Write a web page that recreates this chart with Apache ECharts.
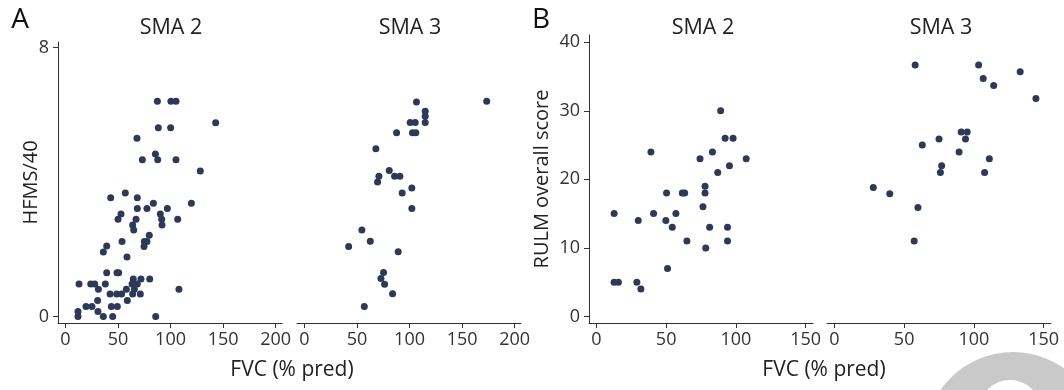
<!DOCTYPE html>
<html>
<head>
<meta charset="utf-8">
<script src="https://cdn.jsdelivr.net/npm/echarts@6/dist/echarts.min.js"></script>
<style>
  html, body { margin: 0; padding: 0; background: #fff; }
  #chart { width: 1064px; height: 390px; }
</style>
</head>
<body>
<div id="chart"></div>
<script>
// panel A: HFMS/40 against FVC
var aSma2Fvc = [87.5, 100.4, 105.2, 142.9, 88.4, 100.1, 68.1, 85.6, 73.2, 87.8, 105.2, 128.3, 57.0, 43.1, 68.4, 83.7, 119.8, 68.4, 77.6, 97.0,
  52.9, 90.3, 50.1, 67.2, 91.6, 106.8, 64.0, 91.9, 65.0, 79.8, 53.9, 75.1, 77.6, 39.3, 74.8, 36.1, 58.6, 39.3, 49.1, 50.7,
  64.6, 71.9, 80.2, 13.0, 24.1, 27.9, 38.0, 63.4, 68.4, 31.4, 58.0, 65.6, 108.0, 42.5, 48.8, 53.5, 64.0, 71.3, 30.7, 58.9,
  19.6, 25.3, 43.7, 49.4, 12.0, 31.0, 12.0, 36.1, 45.0, 85.9];
var aSma2Hfms = [6.4, 6.4, 6.4, 5.76, 5.61, 5.61, 5.3, 4.83, 4.66, 4.66, 4.66, 4.33, 3.67, 3.53, 3.53, 3.37, 3.37, 3.21, 3.21, 3.21,
  3.05, 3.05, 2.89, 2.89, 2.89, 2.89, 2.72, 2.72, 2.57, 2.42, 2.23, 2.23, 2.23, 2.1, 2.08, 1.92, 1.77, 1.3, 1.3, 1.3,
  1.12, 1.12, 1.12, 0.97, 0.97, 0.97, 0.97, 0.97, 0.97, 0.81, 0.81, 0.81, 0.81, 0.67, 0.67, 0.67, 0.67, 0.67, 0.48, 0.48,
  0.3, 0.3, 0.3, 0.3, 0.15, 0.15, 0, 0, 0, 0];
var aSma3Fvc = [106.6, 173.4, 114.9, 114.9, 100.6, 105.4, 114.9, 87.7, 102.8, 106.0, 68.0, 80.7, 70.9, 85.8, 90.8, 69.6, 102.2, 93.0,
  102.2, 54.7, 62.7, 42.1, 89.2, 75.3, 72.8, 76.3, 83.9, 57.0];
var aSma3Hfms = [6.38, 6.4, 6.1, 5.95, 5.77, 5.77, 5.77, 5.46, 5.46, 5.46, 4.99, 4.34, 4.17, 4.17, 4.17, 4.0, 3.82, 3.67,
  3.21, 2.57, 2.24, 2.08, 1.93, 1.31, 1.13, 0.96, 0.68, 0.3];

// panel B: RULM against FVC
var bSma2Fvc = [89.1, 92.3, 98.0, 39.1, 83.2, 74.3, 107.4, 95.4, 87.0, 77.9, 50.3, 61.6, 63.3, 77.9, 76.4, 12.7, 41.0, 57.0,
  30.0, 49.8, 54.4, 81.2, 94.0, 64.9, 94.0, 78.4, 51.0, 12.7, 15.8, 29.0, 31.9];
var bSma2Rulm = [30, 26, 26, 24, 24, 23, 23, 22, 21, 19, 18, 18, 18, 18, 16, 15, 15, 15,
  14, 14, 13, 13, 13, 11, 11, 10, 7, 5, 5, 5, 4];
var bSma3Fvc = [57.9, 103.4, 133.2, 106.7, 114.2, 144.5, 90.9, 95.2, 75.0, 94.0, 63.0, 89.4, 111.1, 76.9, 76.0, 107.7,
  27.9, 39.7, 59.9, 57.2];
var bSma3Rulm = [36.7, 36.7, 35.7, 34.7, 33.7, 31.8, 26.9, 26.9, 25.9, 25.9, 25.0, 24.0, 23.0, 22.0, 21.0, 21.0,
  18.8, 17.9, 15.9, 11.0];

var fvcTicksA = [0, 50, 100, 150, 200];
var fvcTicksB = [0, 50, 100, 150];
var hfmsTicks = [0, 8];
var rulmTicks = [0, 10, 20, 30, 40];

function zip(xs, ys) {
  return xs.map(function (x, i) { return [x, ys[i]]; });
}

var ink = '#333333';
var dot = '#2c3a58';
var font = 'Open Sans';

function xAxisOf(idx, min, max, ticks) {
  return {
    type: 'value', gridIndex: idx, min: min, max: max,
    axisLine: { show: true, onZero: false, lineStyle: { color: ink, width: 1 } },
    axisTick: { show: true, length: 5, customValues: ticks, lineStyle: { color: ink } },
    axisLabel: { customValues: ticks, color: ink, fontSize: 18, fontFamily: font, margin: 8 },
    splitLine: { show: false }
  };
}

function yAxisOf(idx, min, max, ticks, name, gap, visible) {
  return {
    type: 'value', gridIndex: idx, min: min, max: max,
    name: visible ? name : '', nameLocation: 'middle', nameGap: gap, nameMoveOverlap: false,
    nameTextStyle: { color: '#222', fontSize: 20, fontFamily: font },
    axisLine: { show: visible, onZero: false, lineStyle: { color: ink, width: 1 } },
    axisTick: { show: visible, length: 5, customValues: ticks, lineStyle: { color: ink } },
    axisLabel: { show: visible, customValues: ticks, color: ink, fontSize: 18, fontFamily: font, margin: 9 },
    splitLine: { show: false }
  };
}

function seriesOf(idx, data) {
  return {
    type: 'scatter', xAxisIndex: idx, yAxisIndex: idx, data: data,
    symbolSize: 7, itemStyle: { color: dot, opacity: 1 },
    silent: true
  };
}

function label(text, x, y, size, color) {
  return {
    type: 'text', x: x, y: y, silent: true,
    style: { text: text, fill: color, font: size + 'px "' + font + '"', align: 'center', verticalAlign: 'middle' }
  };
}

var myChart = echarts.init(document.getElementById('chart'), null, { renderer: 'canvas' });

option = {
  animation: false,
  backgroundColor: '#fff',
  grid: [
    { left: 58, top: 42, width: 224, height: 281 },
    { left: 297, top: 42, width: 224, height: 281 },
    { left: 589, top: 35, width: 224, height: 288 },
    { left: 827, top: 35, width: 224, height: 288 }
  ],
  xAxis: [
    xAxisOf(0, -7, 206, fvcTicksA),
    xAxisOf(1, -7, 206, fvcTicksA),
    xAxisOf(2, -5.3, 155.3, fvcTicksB),
    xAxisOf(3, -5.3, 155.3, fvcTicksB)
  ],
  yAxis: [
    yAxisOf(0, -0.19, 8.16, hfmsTicks, 'HFMS/40', 17, true),
    yAxisOf(1, -0.19, 8.16, hfmsTicks, '', 0, false),
    yAxisOf(2, -0.96, 41.06, rulmTicks, 'RULM overall score', 37, true),
    yAxisOf(3, -0.96, 41.06, rulmTicks, '', 0, false)
  ],
  series: [
    seriesOf(0, zip(aSma2Fvc, aSma2Hfms)),
    seriesOf(1, zip(aSma3Fvc, aSma3Hfms)),
    seriesOf(2, zip(bSma2Fvc, bSma2Rulm)),
    seriesOf(3, zip(bSma3Fvc, bSma3Rulm))
  ],
  graphic: [
    // grey logo fragment in the corner
    { type: 'circle', shape: { cx: 1013, cy: 440, r: 88 }, style: { fill: '#c9c9c9' }, silent: true, z: -1 },
    { type: 'circle', shape: { cx: 1010, cy: 411, r: 31 }, style: { fill: '#fff' }, silent: true, z: -1 },
    label('A', 20, 20, 28, '#111'),
    label('B', 541, 20, 28, '#111'),
    label('SMA 2', 171, 28, 21.5, '#222'),
    label('SMA 3', 410, 28, 21.5, '#222'),
    label('SMA 2', 703, 28, 21.5, '#222'),
    label('SMA 3', 941, 28, 21.5, '#222'),
    label('FVC (% pred)', 292, 370, 21, '#222'),
    label('FVC (% pred)', 824, 370, 21, '#222')
  ]
};

myChart.setOption(option);
</script>
</body>
</html>
